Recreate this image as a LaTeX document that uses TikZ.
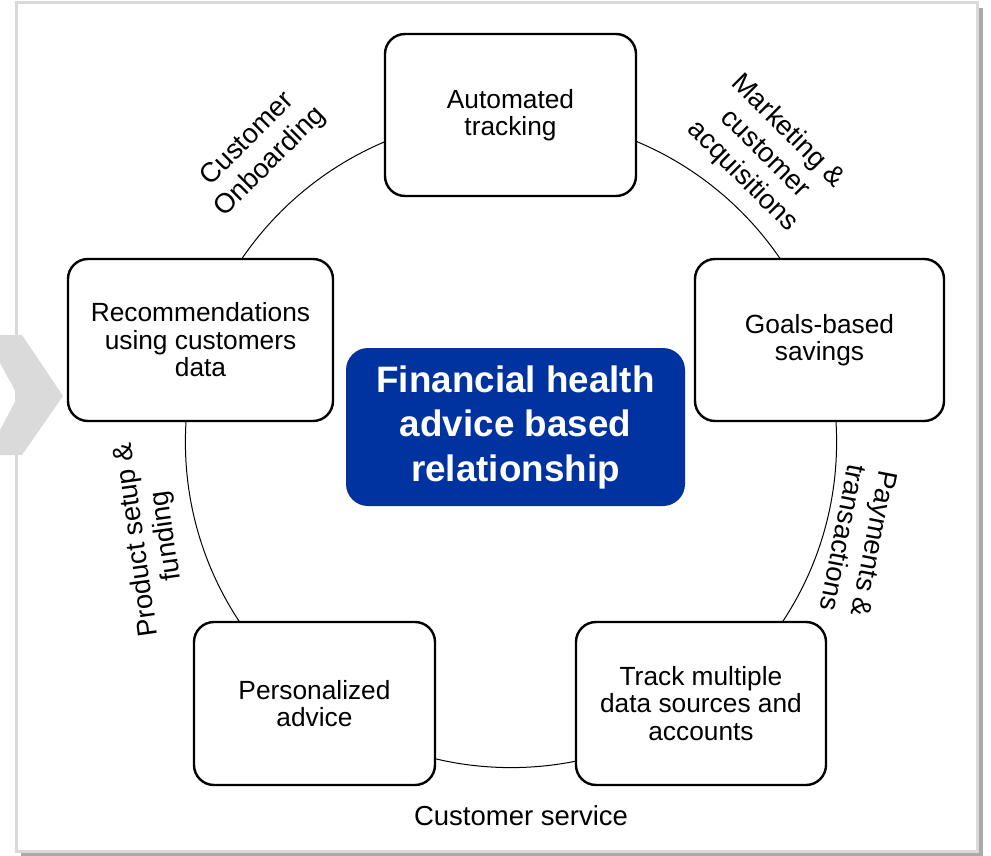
\documentclass[tikz,border=0pt]{standalone}
\usepackage{fontspec}
\setmainfont{Liberation Sans}
\begin{document}
\begin{tikzpicture}[x=1pt,y=-1pt,
  stepbox/.style={draw=black, line width=2.4pt, fill=white, rounded corners=20pt,
    align=center, font=\fontsize{26.3}{27.5}\selectfont, inner sep=0pt},
  centerbox/.style={fill=blueC, rounded corners=22pt, align=center, text=white,
    font=\fontsize{36.8}{44.5}\selectfont\bfseries, inner sep=0pt},
  lbl/.style={align=center, font=\fontsize{27.5}{32}\selectfont, inner sep=0pt},
  ring/.style={draw=black, line width=1pt}
]
\definecolor{blueC}{RGB}{0,51,160}
\definecolor{frameC}{RGB}{217,217,217}
\definecolor{shadowC}{RGB}{170,170,170}
\definecolor{chevC}{RGB}{218,218,218}
\useasboundingbox (0,0) rectangle (991,856);
% frame with shadow
\fill[shadowC] (21,8) rectangle (983,856);
\filldraw[fill=white, draw=frameC, line width=3pt] (16,3) rectangle (977,851);
% ring
\coordinate (c) at (511,442);
\draw[ring] (c) circle[radius=325.6pt];
% boxes
\node[stepbox, minimum width=251pt, minimum height=162pt] (top) at (510.5,115) {Automated\\tracking};
\node[stepbox, minimum width=249pt, minimum height=162pt] (right) at (819.5,340) {Goals-based\\savings};
\node[stepbox, minimum width=265pt, minimum height=162pt] (left) at (200.5,340) {Recommendations\\using customers\\data};
\node[stepbox, minimum width=241pt, minimum height=163pt] (bl) at (314.5,703.5) {Personalized\\advice};
\node[stepbox, minimum width=250pt, minimum height=163pt] (br) at (701,703.5) {Track multiple\\data sources and\\accounts};
\node[centerbox, minimum width=339pt, minimum height=158pt] (mid) at (515.5,427) {Financial health\\advice based\\relationship};
% labels
\node[lbl, rotate=45] (l1) at (259,151) {Customer\\Onboarding};
\node[lbl, rotate=-45] (l2) at (765,154) {Marketing \&\\customer\\acquisitions};
\node[lbl, rotate=-101] (l3) at (859,541) {Payments \&\\transactions};
\node[lbl, rotate=98, font=\fontsize{27.5}{30}\selectfont] (l4) at (152,538) {Product setup \&\\funding};
\node[lbl] (l5) at (521,816) {Customer service};
% chevron
\fill[chevC] (0,335) -- (22,335) -- (63,396) -- (22,455) -- (0,455) -- (0,430) -- (18,396) -- (0,363) -- cycle;
\end{tikzpicture}
\end{document}
